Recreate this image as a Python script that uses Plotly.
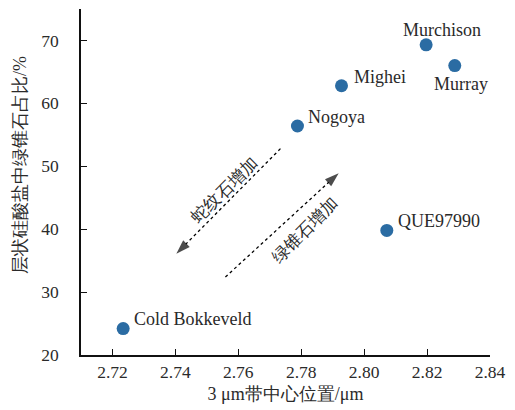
import plotly.graph_objects as go

names = ["Cold Bokkeveld", "Nogoya", "Mighei", "Murchison", "Murray", "QUE97990"]
band_center = [2.7234, 2.7788, 2.7928, 2.8197, 2.8288, 2.8072]
cronstedtite_pct = [24.2, 56.4, 62.8, 69.3, 66.0, 39.8]

x_ticks = [2.72, 2.74, 2.76, 2.78, 2.80, 2.82, 2.84]
y_ticks = [20, 30, 40, 50, 60, 70]

# arrows (start -> tip) in data units
serp_arrow_x = [2.7734, 2.7403]
serp_arrow_y = [52.8, 36.1]
cron_arrow_x = [2.7559, 2.7919]
cron_arrow_y = [32.4, 48.9]

# label offsets in px: (xshift, yshift, xanchor)
label_style = {
    "Cold Bokkeveld": (9, 10, "left"),
    "Nogoya": (9, 9, "left"),
    "Mighei": (10, 9, "left"),
    "Murchison": (16, 15, "center"),
    "Murray": (6, -18, "center"),
    "QUE97990": (9, 9, "left"),
}

FONT = "Times New Roman, Liberation Serif, DejaVu Serif, serif"
TXT = "#2a2a2a"

fig = go.Figure()

for ax_x, ax_y in [(serp_arrow_x, serp_arrow_y), (cron_arrow_x, cron_arrow_y)]:
    fig.add_trace(go.Scatter(
        x=ax_x, y=ax_y, mode="lines+markers",
        line=dict(color="black", width=1.3, dash="3px,3px"),
        marker=dict(symbol=["circle", "arrow"], size=[0, 15], color="black",
                    angleref="previous", line=dict(width=0)),
        hoverinfo="skip", showlegend=False,
    ))

fig.add_trace(go.Scatter(
    x=band_center, y=cronstedtite_pct, mode="markers",
    marker=dict(size=13, color="#2b6ca3"),
    showlegend=False,
))

for n, xv, yv in zip(names, band_center, cronstedtite_pct):
    xs, ys, xa = label_style[n]
    fig.add_annotation(x=xv, y=yv, text=n, showarrow=False, xanchor=xa,
                       yanchor="middle", xshift=xs, yshift=ys,
                       font=dict(family=FONT, size=18, color=TXT))

fig.add_annotation(x=2.7555, y=46.2, text="蛇纹石增加", textangle=-45,
                   showarrow=False, xanchor="center", yanchor="middle",
                   font=dict(family=FONT, size=17, color=TXT))
fig.add_annotation(x=2.7812, y=39.8, text="绿锥石增加", textangle=-45,
                   showarrow=False, xanchor="center", yanchor="middle",
                   font=dict(family=FONT, size=17, color=TXT))

fig.add_annotation(xref="paper", yref="paper", x=-0.151, y=0.55,
                   text="层状硅酸盐中绿锥石占比/%", textangle=-90,
                   showarrow=False, xanchor="center", yanchor="middle",
                   font=dict(family=FONT, size=18, color=TXT))

axis_common = dict(
    showline=True, linecolor="#111", linewidth=1.5, mirror=False,
    ticks="inside", ticklen=6, tickwidth=1.3, tickcolor="#111",
    showgrid=False, zeroline=False,
    tickfont=dict(family=FONT, size=17.5, color=TXT),
)

fig.update_xaxes(range=[2.71, 2.84], tickvals=x_ticks,
                 ticktext=[f"{v:.2f}" for v in x_ticks],
                 title=dict(text="3 μm带中心位置/μm", standoff=7,
                            font=dict(family=FONT, size=18, color=TXT)),
                 **axis_common)
fig.update_yaxes(range=[20, 75], tickvals=y_ticks, ticklabelstandoff=17,
                 **axis_common)

fig.update_layout(
    width=515, height=410,
    margin=dict(l=81, r=18, t=9, b=54),
    paper_bgcolor="white", plot_bgcolor="white",
    font=dict(family=FONT),
)

fig.write_html("out.html")
